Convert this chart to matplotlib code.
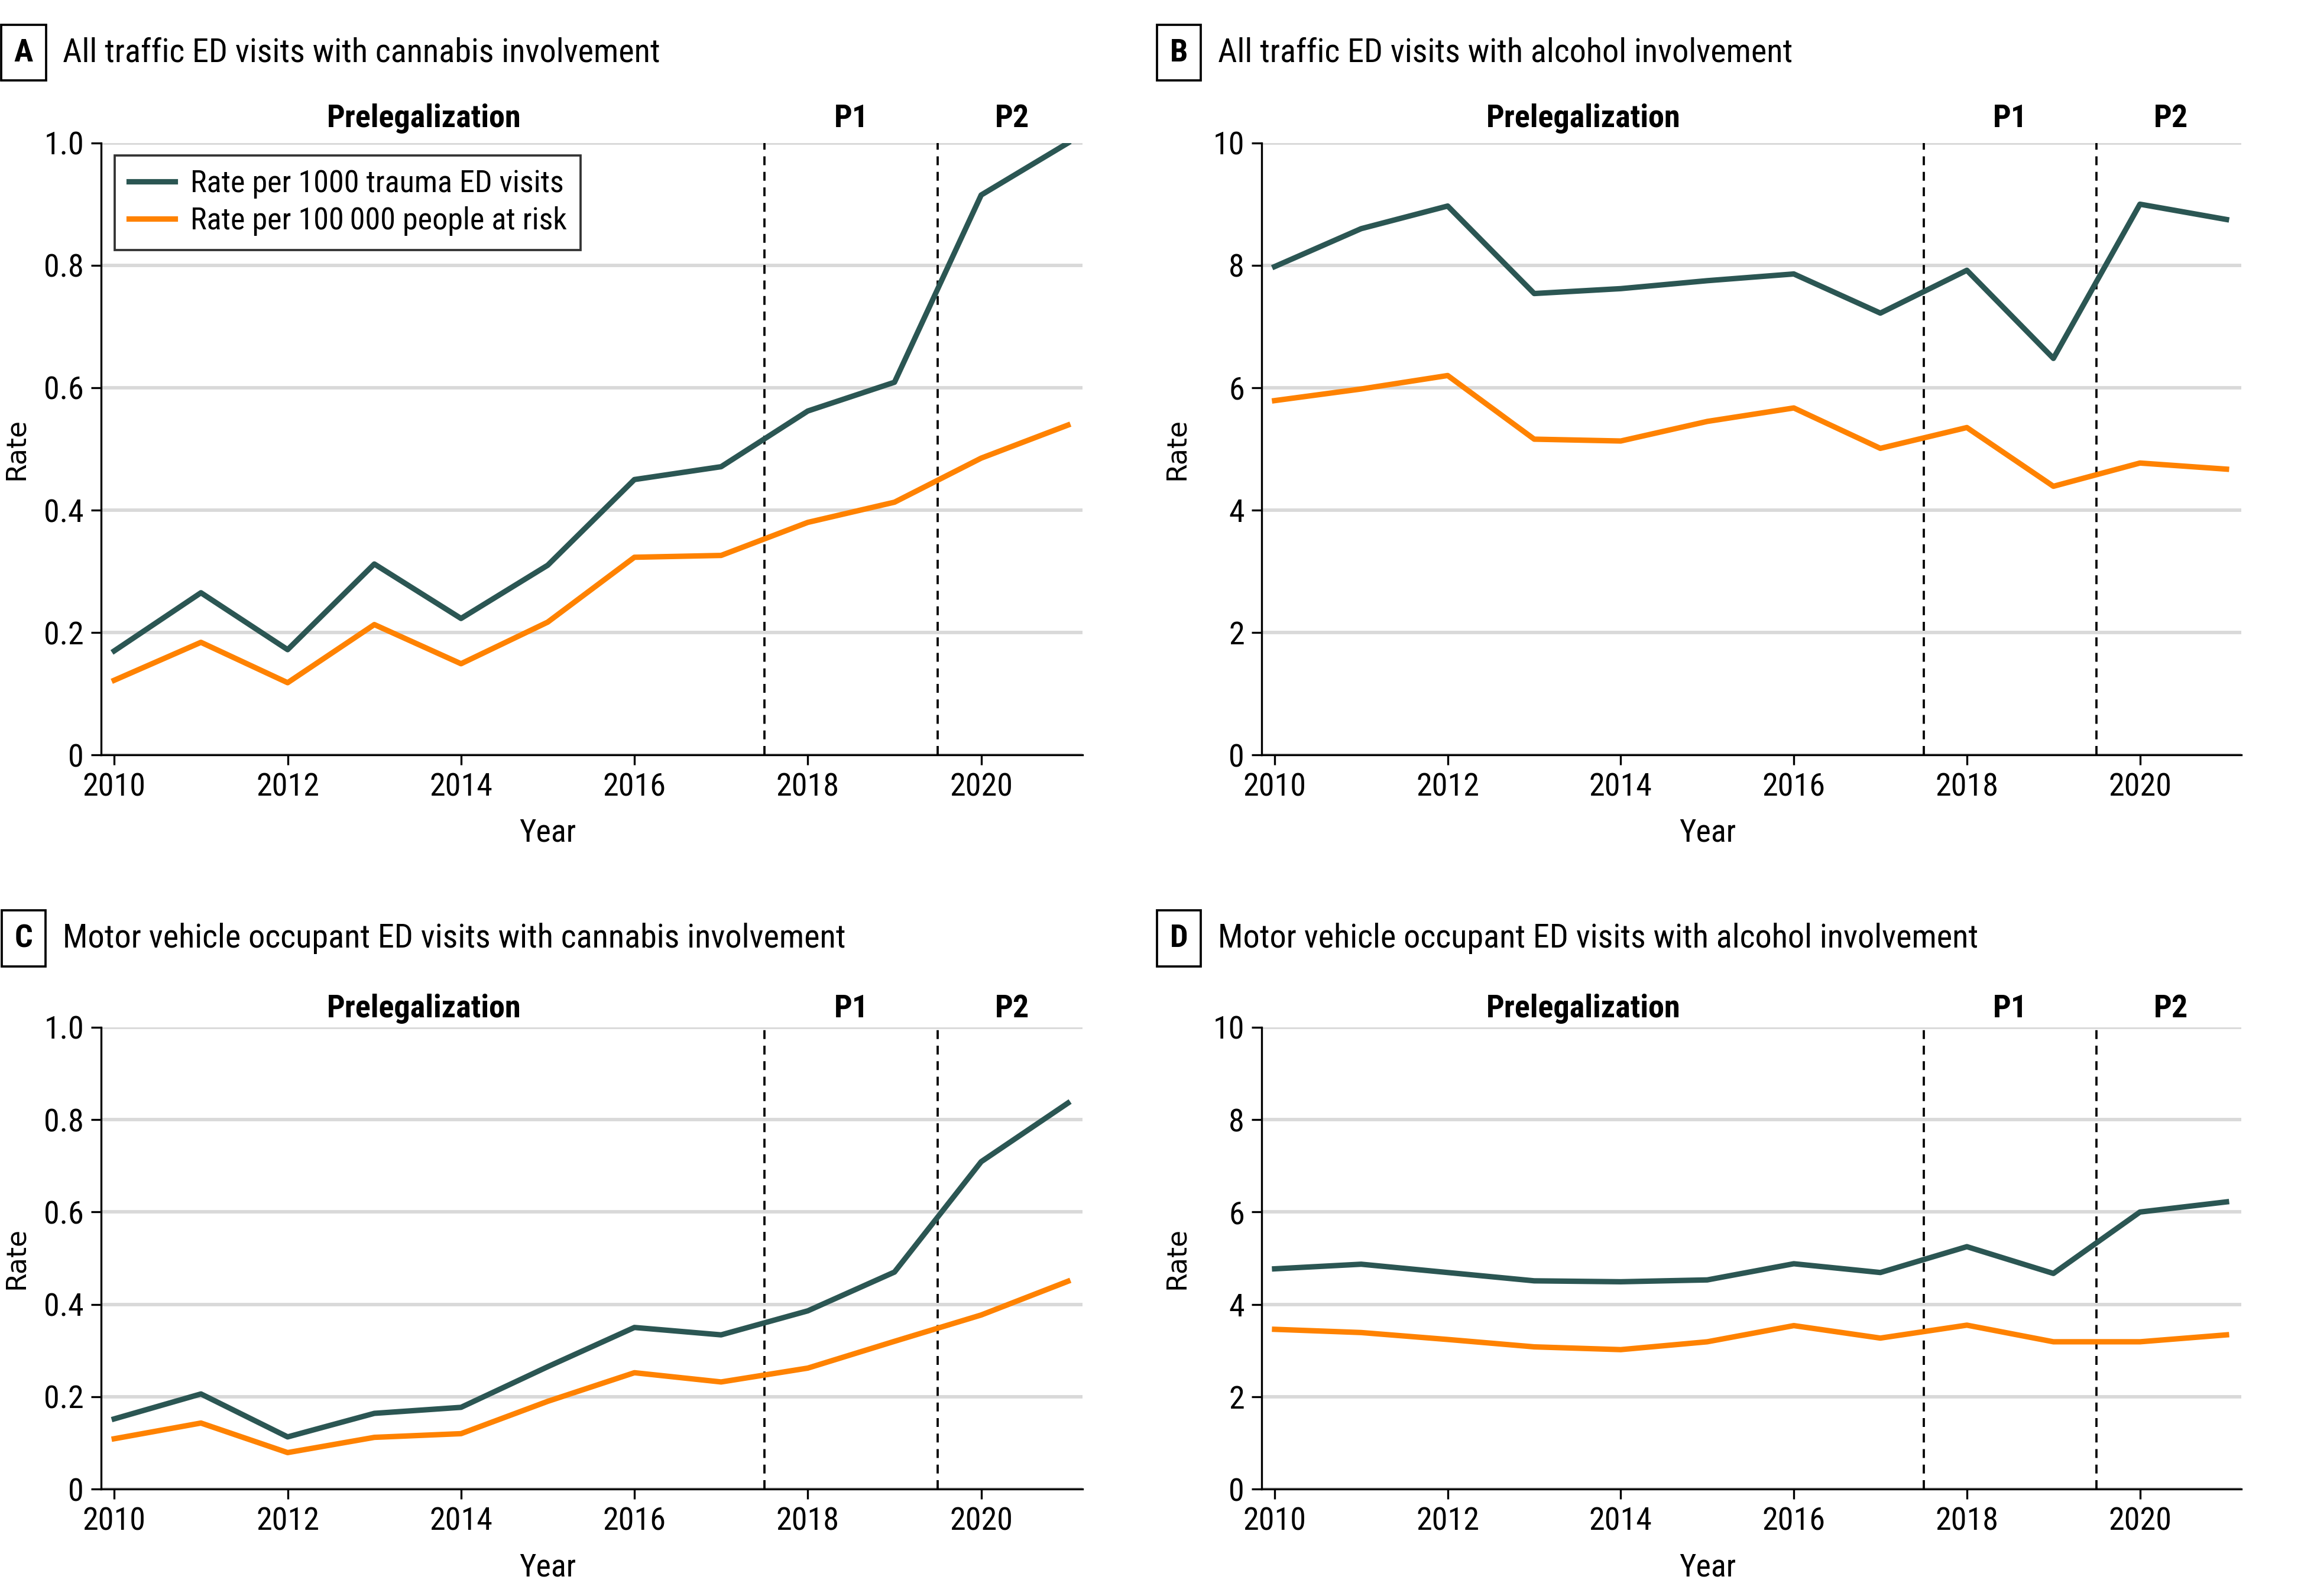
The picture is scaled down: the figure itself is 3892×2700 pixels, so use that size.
import numpy as np
import matplotlib
matplotlib.use("Agg")
import matplotlib.pyplot as plt
from matplotlib import font_manager
from matplotlib.ticker import FuncFormatter

# узкий шрифт, если есть
installed = {f.name for f in font_manager.fontManager.ttflist}
narrow = 'DejaVu Sans'
for name in ['Roboto Condensed', 'Fira Sans Condensed', 'PT Sans Narrow',
             'Archivo Narrow', 'Liberation Sans Narrow', 'Liberation Sans']:
    if name in installed:
        narrow = name
        break
plt.rcParams['font.family'] = [narrow, 'DejaVu Sans']

# данные
years = np.arange(2010, 2022)

a_trauma = [0.170, 0.265, 0.172, 0.312, 0.223, 0.310, 0.450, 0.471, 0.562, 0.609, 0.915, 1.000]
a_people = [0.122, 0.184, 0.118, 0.213, 0.149, 0.217, 0.323, 0.326, 0.380, 0.413, 0.485, 0.539]

b_trauma = [7.98, 8.60, 8.97, 7.54, 7.62, 7.75, 7.86, 7.22, 7.92, 6.48, 9.00, 8.75]
b_people = [5.79, 5.98, 6.20, 5.16, 5.13, 5.45, 5.67, 5.01, 5.35, 4.39, 4.77, 4.67]

c_trauma = [0.152, 0.206, 0.113, 0.164, 0.177, 0.265, 0.350, 0.334, 0.386, 0.470, 0.709, 0.836]
c_people = [0.109, 0.143, 0.079, 0.112, 0.120, 0.190, 0.252, 0.232, 0.262, 0.320, 0.377, 0.450]

d_trauma = [4.77, 4.87, 4.69, 4.51, 4.49, 4.53, 4.88, 4.69, 5.25, 4.67, 6.00, 6.22]
d_people = [3.46, 3.39, 3.24, 3.08, 3.02, 3.19, 3.54, 3.27, 3.55, 3.19, 3.19, 3.34]

letters = ['A', 'B', 'C', 'D']
titles = ['All traffic ED visits with cannabis involvement',
          'All traffic ED visits with alcohol involvement',
          'Motor vehicle occupant ED visits with cannabis involvement',
          'Motor vehicle occupant ED visits with alcohol involvement']
series = [(a_trauma, a_people), (b_trauma, b_people), (c_trauma, c_people), (d_trauma, d_people)]
ymax = [1.0, 10, 1.0, 10]

label_trauma = 'Rate per 1000 trauma ED visits'
label_people = 'Rate per 100\u2009000 people at risk'

teal = '#2b5653'
orange = '#ff8200'

fig = plt.figure(figsize=(3892 / 300, 2700 / 300), dpi=300)

# позиции панелей в долях фигуры
boxes = [(0.044, 0.527, 0.4265, 0.3834),
         (0.5483, 0.527, 0.4257, 0.3834),
         (0.044, 0.067, 0.4265, 0.2893),
         (0.5483, 0.067, 0.4257, 0.2893)]
title_y = [0.967, 0.967, 0.412, 0.412]
letter_x = [0.0103, 0.5123, 0.0103, 0.5123]

for i in range(4):
    ax = fig.add_axes(boxes[i])
    trauma, people = series[i]
    ax.plot(years, trauma, color=teal, lw=2.2, label=label_trauma, zorder=3)
    ax.plot(years, people, color=orange, lw=2.2, label=label_people, zorder=3)

    ax.set_xlim(2009.85, 2021.17)
    ax.set_ylim(0, ymax[i])
    ax.set_xticks(np.arange(2010, 2022, 2))
    if ymax[i] == 1.0:
        ax.set_yticks([0, 0.2, 0.4, 0.6, 0.8, 1.0])
        ax.yaxis.set_major_formatter(FuncFormatter(lambda v, p: '0' if v == 0 else f'{v:.1f}'))
    else:
        ax.set_yticks([0, 2, 4, 6, 8, 10])

    ax.grid(axis='y', color='#d9d9d9', lw=1.4, zorder=0)
    ax.set_axisbelow(True)
    for s in ['top', 'right']:
        ax.spines[s].set_visible(False)
    for s in ['left', 'bottom']:
        ax.spines[s].set_linewidth(0.8)
    ax.tick_params(axis='both', length=4, width=0.8, labelsize=13, pad=3)

    ax.axvline(2017.5, color='black', ls=(0, (4, 3)), lw=0.9, zorder=2)
    ax.axvline(2019.5, color='black', ls=(0, (4, 3)), lw=0.9, zorder=2)

    tr = ax.get_xaxis_transform()
    ax.text(2013.57, 1.04, 'Prelegalization', transform=tr, ha='center', va='center',
            fontsize=13, fontweight='bold')
    ax.text(2018.5, 1.04, 'P1', transform=tr, ha='center', va='center', fontsize=13, fontweight='bold')
    ax.text(2020.36, 1.04, 'P2', transform=tr, ha='center', va='center', fontsize=13, fontweight='bold')

    ax.set_xlabel('Year', fontsize=13)
    ax.xaxis.set_label_coords(0.455, -0.103 if i < 2 else -0.138)
    ax.set_ylabel('Rate', fontsize=11, family='DejaVu Sans')
    ax.yaxis.set_label_coords(-0.073, 0.5)

    fig.text(letter_x[i], title_y[i], letters[i], ha='center', va='center',
             fontsize=13, fontweight='bold',
             bbox=dict(boxstyle='square,pad=0.4', fc='white', ec='black', lw=0.9))
    fig.text(letter_x[i] + 0.017, title_y[i], titles[i], ha='left', va='center', fontsize=13.5)

    if i == 0:
        leg = ax.legend(loc='upper left', bbox_to_anchor=(0.014, 0.98), borderaxespad=0,
                        fontsize=12.5, frameon=True, fancybox=False, handlelength=1.5,
                        borderpad=0.45, labelspacing=0.25, handletextpad=0.5)
        leg.get_frame().set_edgecolor('black')
        leg.get_frame().set_linewidth(0.9)

fig.savefig('out.png', dpi=300)
